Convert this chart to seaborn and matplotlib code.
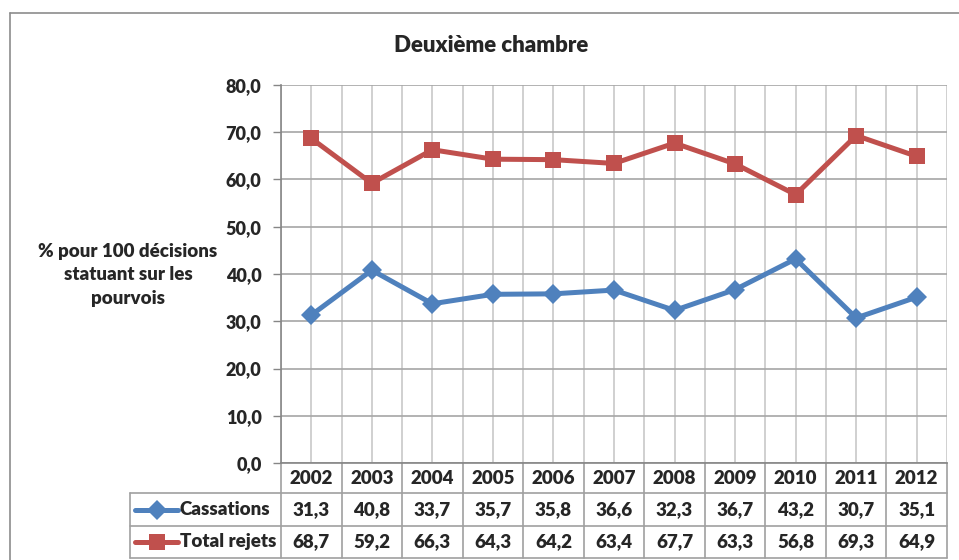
import numpy as np
import pandas as pd
import matplotlib
matplotlib.use("Agg")
import matplotlib.pyplot as plt
import seaborn as sns
from matplotlib.lines import Line2D
from matplotlib.transforms import blended_transform_factory

years = ["2002", "2003", "2004", "2005", "2006", "2007", "2008", "2009", "2010", "2011", "2012"]
cassations = [31.3, 40.8, 33.7, 35.7, 35.8, 36.6, 32.3, 36.7, 43.2, 30.7, 35.1]
rejets = [68.7, 59.2, 66.3, 64.3, 64.2, 63.4, 67.7, 63.3, 56.8, 69.3, 64.9]
series_names = ["Cassations", "Total rejets"]
title = "Deuxième chambre"
ylabel = "% pour 100 décisions\nstatuant sur les\npourvois"
yticks = [0, 10, 20, 30, 40, 50, 60, 70, 80]

blue = "#4F81BD"
red = "#C0504D"
palette = {series_names[0]: blue, series_names[1]: red}
markers = {series_names[0]: "D", series_names[1]: "s"}

sns.set_theme(style="white")
plt.rcParams['font.family'] = ['Lato', 'DejaVu Sans']
FW = "heavy"

W, H = 959, 560
fig = plt.figure(figsize=(W / 100, H / 100), dpi=100)
fig.patch.set_facecolor("white")


def fx(px):
    return px / W


def fy(py):
    return 1 - py / H


X0, X1, Y0, Y1 = 281, 947, 85, 463
ax = fig.add_axes([fx(X0), fy(Y1), fx(X1) - fx(X0), fy(Y0) - fy(Y1)])

n = len(years)
df = pd.DataFrame({
    "x": list(range(n)) * 2,
    "value": cassations + rejets,
    "serie": [series_names[0]] * n + [series_names[1]] * n,
})
sns.lineplot(data=df, x="x", y="value", hue="serie", style="serie",
             palette=palette, markers=markers, dashes=False,
             linewidth=3.6, markersize=10.5, markeredgewidth=0,
             legend=False, ax=ax, zorder=5)
for line in ax.lines:
    if line.get_marker() == "s":
        line.set_markersize(11)

ax.set_xlim(-0.5, n - 0.5)
ax.set_ylim(0, 80)
ax.set_xlabel("")
ax.set_ylabel("")

ax.set_yticks(yticks)
ax.set_yticklabels([f"{v:.1f}".replace(".", ",") for v in yticks],
                   fontsize=13, fontweight=FW)
ax.set_xticks(np.arange(-0.5, n - 0.4, 0.5))
ax.set_xticklabels([])
ax.tick_params(axis="x", length=0)
ax.tick_params(axis="y", length=6, width=1, color="#868686", pad=8, left=True)
ax.grid(True, axis="x", color="#c8c8c8", linewidth=1.2)
ax.grid(True, axis="y", color="#a6a6a6", linewidth=1.2)
for s in ["top", "right"]:
    ax.spines[s].set_visible(False)
for s in ["left", "bottom"]:
    ax.spines[s].set_color("#868686")
    ax.spines[s].set_linewidth(1.2)

# title and y label
fig.text(fx(491), fy(46), title, ha="center", va="center", fontsize=16, fontweight=FW)
fig.text(fx(128), fy(275), ylabel, ha="center", va="center", fontsize=13.5,
         fontweight=FW, linespacing=1.45)

# outer frame
fig.add_artist(Line2D([fx(10), 1], [fy(13), fy(13)], color="#8c8c8c", lw=1.2))
fig.add_artist(Line2D([fx(10), fx(10)], [fy(13), 0], color="#8c8c8c", lw=1.2))

# data table
tc = "#a0a0a0"
rows_y = [463, 493, 526, 558]
TL = 130
for ry in rows_y[1:]:
    fig.add_artist(Line2D([fx(TL), fx(X1)], [fy(ry), fy(ry)], color=tc, lw=1.2))
fig.add_artist(Line2D([fx(TL), fx(TL)], [fy(493), fy(558)], color=tc, lw=1.2))
trans = blended_transform_factory(ax.transData, fig.transFigure)
for b in np.arange(-0.5, n, 1.0):
    ax.add_artist(Line2D([b, b], [fy(463), fy(558)], color=tc, lw=1.2,
                         transform=trans, clip_on=False))

TS = 13.5
cy = [(rows_y[i] + rows_y[i + 1]) / 2 for i in range(3)]
for i, yr in enumerate(years):
    ax.text(i, fy(cy[0]), yr, transform=trans, ha="center", va="center",
            fontsize=TS, fontweight=FW, clip_on=False)
    ax.text(i, fy(cy[1]), f"{cassations[i]:.1f}".replace(".", ","), transform=trans,
            ha="center", va="center", fontsize=TS, fontweight=FW, clip_on=False)
    ax.text(i, fy(cy[2]), f"{rejets[i]:.1f}".replace(".", ","), transform=trans,
            ha="center", va="center", fontsize=TS, fontweight=FW, clip_on=False)

for k, name in enumerate(series_names):
    yy = fy(cy[k + 1])
    col = palette[name]
    fig.add_artist(Line2D([fx(135), fx(178)], [yy, yy], color=col, lw=3.6))
    fig.add_artist(Line2D([fx(157)], [yy], color=col, marker=markers[name],
                          markersize=10.5 if markers[name] == "D" else 11,
                          markeredgewidth=0))
    fig.text(fx(180), yy, name, ha="left", va="center", fontsize=TS, fontweight=FW)

fig.savefig("out.png", dpi=100, facecolor="white")
